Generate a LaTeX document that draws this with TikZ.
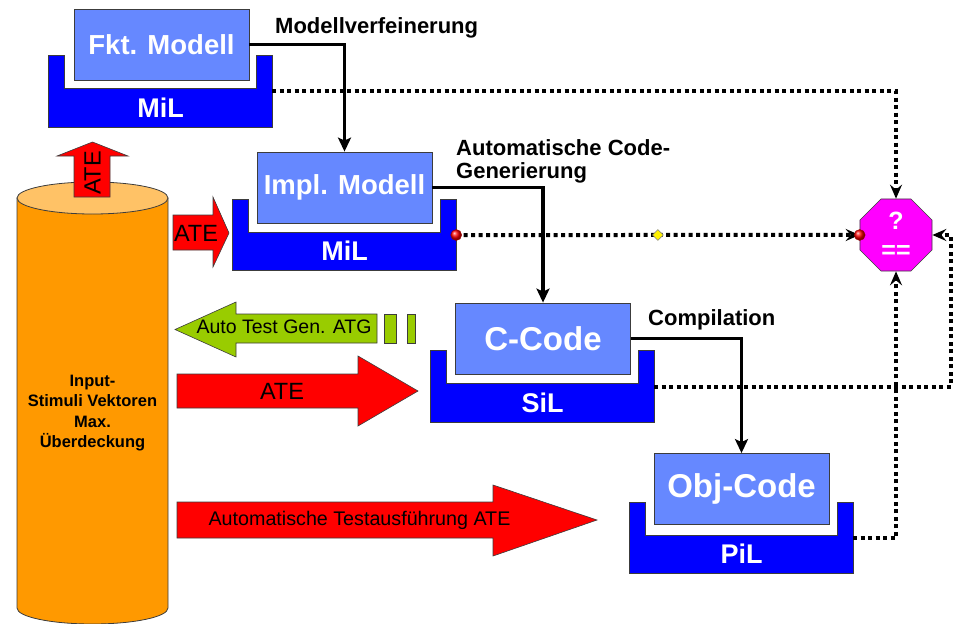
\documentclass[tikz,border=0pt]{standalone}
\usepackage{fontspec}
\setmainfont{Liberation Sans}
\usetikzlibrary{arrows.meta,shapes.geometric,calc}

\definecolor{boxblue}{RGB}{102,136,255}
\definecolor{trayblue}{RGB}{0,0,255}
\definecolor{atered}{RGB}{255,0,0}
\definecolor{atggreen}{RGB}{153,204,0}
\definecolor{cylorange}{RGB}{255,153,0}
\definecolor{cyltop}{RGB}{255,194,102}
\definecolor{cmpmagenta}{RGB}{255,0,255}
\definecolor{edgegray}{RGB}{60,60,60}

\tikzset{
  modelbox/.style={draw=edgegray, line width=0.8pt, fill=boxblue, text=white,
    font=\bfseries\fontsize{27.5}{30}\selectfont, minimum width=175pt,
    minimum height=71pt, inner sep=0pt},
  codebox/.style={modelbox, font=\bfseries\fontsize{33}{36}\selectfont},
  tray/.style={minimum width=223pt, minimum height=71pt, inner sep=0pt},
  traylabel/.style={text=white, font=\bfseries\fontsize{27}{30}\selectfont, inner sep=0pt},
  trayshape/.style={fill=trayblue, draw=edgegray, line width=0.8pt},
  flow/.style={line width=3.2pt, -{Stealth[length=14pt,width=13pt,inset=3pt]}},
  check/.style={line width=4pt, dash pattern=on 4pt off 3.5pt,
    -{Stealth[length=14pt,width=12pt,inset=5pt]}},
  steplabel/.style={font=\bfseries\fontsize{22}{22.5}\selectfont, inner sep=0pt},
  blockarrow/.style={draw=edgegray, line width=0.6pt},
  arrowtext/.style={inner sep=0pt, font=\fontsize{23.5}{25}\selectfont},
  probe/.style={circle, inner sep=0pt, minimum size=11pt, shading=ball, ball color=red,
    draw=red!60!black, line width=0.4pt, solid},
  midmark/.style={diamond, inner sep=0pt, minimum size=11pt, fill=yellow,
    draw=gray, line width=0.5pt, solid},
  comparator/.style={regular polygon, regular polygon sides=8, minimum size=78pt,
    inner sep=0pt, fill=cmpmagenta, draw=edgegray, line width=0.6pt, text=white,
    align=center, font=\bfseries\fontsize{25}{29}\selectfont},
}

% U-shaped test bench drawn around a tray node
\newcommand\utrayshape[1]{%
  \path[trayshape] (#1.north west) -- ($(#1.north west)+(16,0)$)
    -- ($(#1.north west)+(16,33)$) -- ($(#1.north east)+(-16,33)$)
    -- ($(#1.north east)+(-16,0)$) -- (#1.north east) -- (#1.south east)
    -- (#1.south west) -- cycle;}

\begin{document}
\begin{tikzpicture}[x=1pt,y=-1pt]
\useasboundingbox (0,0) rectangle (957,623);

% stimulus database
\begin{scope}
  \clip (0,0) rectangle (957,623);
  \path[fill=cylorange, draw=edgegray, line width=0.8pt]
    (17,198) -- (17,608) arc[start angle=180, end angle=360, x radius=75.5pt, y radius=16pt]
    -- (168,198) -- cycle;
  \path[fill=cyltop, draw=edgegray, line width=0.8pt]
    (92.5,198) ellipse [x radius=75.5pt, y radius=16pt];
\end{scope}
\node[font=\bfseries\fontsize{16.5}{20.5}\selectfont, align=center, inner sep=0pt]
  (stimuli) at (92.5,413) {Input-\\Stimuli Vektoren\\Max.\\Überdeckung};

% block arrows
\path[blockarrow, fill=atered] (74,197) -- (74,156) -- (57,156) -- (92.5,142)
  -- (128,156) -- (110,156) -- (110,197) -- cycle;
\node[arrowtext, rotate=90] (ateup) at (92.5,173) {ATE};

\path[blockarrow, fill=atered] (173,215) -- (213,215) -- (213,197) -- (229,233)
  -- (213,267) -- (213,250) -- (173,250) -- cycle;
\node[arrowtext] (atemil) at (196,233) {ATE};

\path[blockarrow, fill=atggreen] (377,314) -- (236,314) -- (236,302) -- (175,329.5)
  -- (236,357) -- (236,343) -- (377,343) -- cycle;
\path[blockarrow, fill=atggreen] (384,314) rectangle (396,343);
\path[blockarrow, fill=atggreen] (407,314) rectangle (415,343);
\node[arrowtext, font=\fontsize{19.5}{21}\selectfont] (atg) at (284,327) {Auto Test Gen. ATG};

\path[blockarrow, fill=atered] (177,374) -- (358,374) -- (358,356) -- (418,391)
  -- (358,426) -- (358,408) -- (177,408) -- cycle;
\node[arrowtext] (atesil) at (282,391) {ATE};

\path[blockarrow, fill=atered] (177,502) -- (493,502) -- (493,485) -- (597,520)
  -- (493,556) -- (493,538) -- (177,538) -- cycle;
\node[arrowtext, font=\fontsize{19.7}{21}\selectfont] (atepil) at (359.5,520)
  {Automatische Testausführung ATE};

% test benches
\node[tray] (t1) at (160.5,91.5) {};
\utrayshape{t1}
\node[traylabel] (l1) at ($(t1.south)+(0,-19.5)$) {MiL};
\node[modelbox] (fkt) at (161.5,44.5) {Fkt. Modell};

\node[tray] (t2) at (344.5,235) {};
\utrayshape{t2}
\node[traylabel] (l2) at ($(t2.south)+(0,-19.5)$) {MiL};
\node[modelbox] (impl) at (344.5,187.5) {Impl. Modell};

\node[tray] (t3) at (542.5,386.5) {};
\utrayshape{t3}
\node[traylabel] (l3) at ($(t3.south)+(0,-19.5)$) {SiL};
\node[codebox] (ccode) at (543,338.5) {C-Code};

\node[tray] (t4) at (741.5,538) {};
\utrayshape{t4}
\node[traylabel] (l4) at ($(t4.south)+(0,-19.5)$) {PiL};
\node[codebox] (obj) at (741.5,489) {Obj-Code};

% comparator
\node[comparator] (oct) at (896,235) {?\\==};
\coordinate (back) at (951,386.5);

% development steps
\draw[flow] (fkt.east) -| (impl.north);
\draw[flow] (impl.east) -| (ccode.north);
\draw[flow] (ccode.east) -| (obj.north);
\node[steplabel, anchor=west] (s1) at (275,27.5) {Modellverfeinerung};
\node[steplabel, anchor=north west, align=left] (s2) at (456,139.5)
  {Automatische Code-\\Generierung};
\node[steplabel, anchor=west] (s3) at (648,319.5) {Compilation};

% result comparisons
\draw[check] (t1.east) -| (oct.north);
\draw[check] (t2.east) -- node[midmark] (mid) {} (oct.west);
\draw[check] (t3.east) -- (back) |- (oct.east);
\draw[check] (t4.east) -| (oct.south);
\node[probe] (p1) at (t2.east) {};
\node[probe] (p2) at (oct.west) {};
\end{tikzpicture}
\end{document}
